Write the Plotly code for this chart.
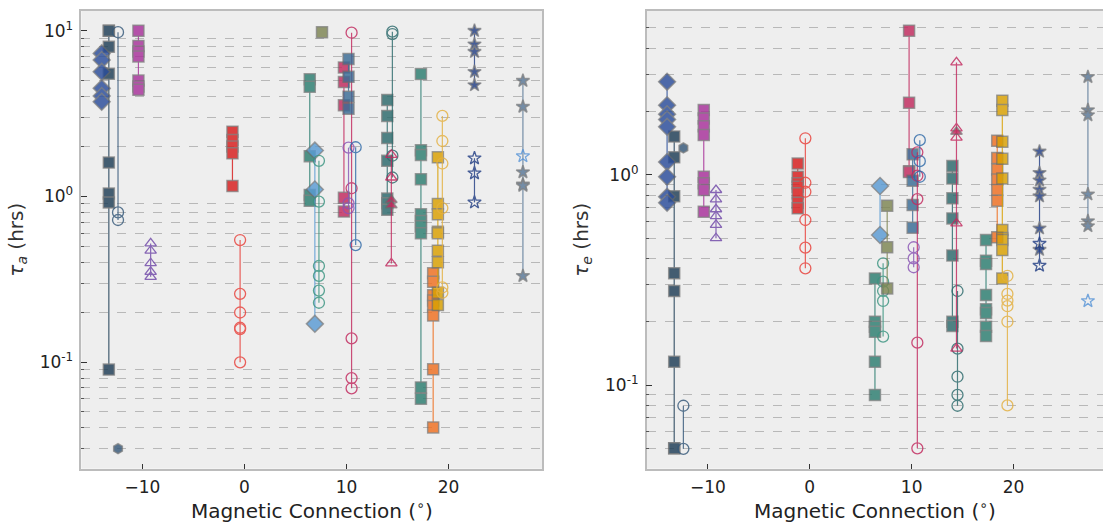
import plotly.graph_objects as go

# ---- tau_a (left panel): magnetic connection (deg) and time constants (hrs) ----
ta_navy_sq_x = -13.3
ta_navy_sq_y = [10.0, 10.0, 8.0, 5.5, 1.6, 1.04, 0.92, 0.09]
ta_slate_circ_x = -12.4
ta_slate_circ_y = [9.8, 0.80, 0.72]
ta_hex_x = -12.4
ta_hex_y = [0.030]
ta_diam_x = -14.0
ta_diam_y = [7.3, 6.66, 5.65, 4.49, 4.04, 3.73]
ta_mag_sq_x = -10.4
ta_mag_sq_y = [10.0, 8.1, 7.5, 7.0, 5.0, 4.6, 4.4]
ta_purp_tri_x = -9.2
ta_purp_tri_y = [0.52, 0.47, 0.395, 0.35, 0.327]
ta_red_sq_x = -1.18
ta_red_sq_y = [2.46, 2.19, 2.0, 1.82, 1.155]
ta_red_circ_x = -0.43
ta_red_circ_y = [0.545, 0.258, 0.199, 0.161, 0.158, 0.0996]
ta_teal_sq_x = 6.4
ta_teal_sq_y = [5.09, 4.59, 1.75, 1.02, 0.94]
ta_lb_diam_x = 6.9
ta_lb_diam_y = [1.89, 1.10, 0.17]
ta_teal_circ_x = 7.3
ta_teal_circ_y = [1.64, 0.93, 0.38, 0.331, 0.27, 0.228]
ta_olive_sq_x = 7.6
ta_olive_sq_y = [9.8]
ta_crim_sq_x = 9.75
ta_crim_sq_y = [6.0, 4.9, 3.55, 0.98, 0.81]
ta_steel_sq_x = 10.2
ta_steel_sq_y = [6.75, 5.27, 4.0, 3.38]
ta_crim_circ_x = 10.5
ta_crim_circ_y = [9.73, 1.12, 0.139, 0.08, 0.0694]
ta_purp_circ_x = 10.2
ta_purp_circ_y = [1.97, 0.908, 0.85]
ta_blue_circ_x = 10.9
ta_blue_circ_y = [1.98, 0.508]
ta_dteal_sq_x = 14.0
ta_dteal_sq_y = [3.82, 3.06, 2.25, 1.64, 0.97, 0.91, 0.83]
ta_dteal_circ_x = 14.5
ta_dteal_circ_y = [9.87, 9.55, 1.76, 1.30]
ta_crim_tri_x = 14.4
ta_crim_tri_y = [1.78, 1.30, 0.394]
ta_crim_tri_fill_y = [0.95, 0.885]
ta_teal2_sq_x = 17.3
ta_teal2_sq_y = [5.48, 1.90, 1.78, 1.27, 0.78, 0.71, 0.66, 0.60, 0.0703, 0.060]
ta_orange_sq_x = 18.5
ta_orange_sq_y = [0.343, 0.305, 0.253, 0.235, 0.218, 0.191, 0.0903, 0.0403]
ta_gold_sq_x = 18.96
ta_gold_sq_y = [1.72, 0.9, 0.78, 0.612, 0.6, 0.47, 0.40, 0.262, 0.221]
ta_gold_circ_x = 19.4
ta_gold_circ_y = [3.06, 2.16, 1.58, 0.85, 0.282, 0.262]
ta_navy_star_x = 22.55
ta_navy_star_y = [10.0, 8.28, 7.47, 5.65, 4.70]
ta_navy_ostar_y = [1.70, 1.38, 0.92]
ta_steel_star_x = 27.3
ta_steel_star_y = [4.99, 3.48, 1.40, 1.18, 1.16, 0.331]
ta_light_ostar_y = [1.75]

# ---- tau_e (right panel) ----
te_navy_sq_y = [1.52, 1.21, 0.79, 0.34, 0.28, 0.129, 0.05, 0.05]
te_slate_circ_y = [0.0797, 0.0497]
te_hex_y = [1.34]
te_diam_y = [2.77, 2.14, 1.94, 1.83, 1.69, 1.15, 0.978, 0.786, 0.736]
te_mag_sq_y = [2.03, 1.85, 1.70, 1.545, 0.978, 0.91, 0.846, 0.667]
te_purp_tri_y = [0.846, 0.764, 0.685, 0.636, 0.577, 0.499]
te_red_sq_y = [1.13, 0.978, 0.91, 0.877, 0.816, 0.736, 0.692]
te_red_circ_y = [1.49, 0.916, 0.83, 0.609, 0.45, 0.359]
te_teal_sq_y = [0.321, 0.2, 0.189, 0.179, 0.129, 0.0897]
te_lb_diam_y = [0.884, 0.517]
te_teal_circ_x = 7.2
te_teal_circ_y = [0.379, 0.31, 0.28, 0.251, 0.17]
te_olive_sq_y = [0.712, 0.452, 0.288]
te_crim_sq_y = [4.84, 2.2, 1.04, 1.03]
te_steel_sq_x = 10.1
te_steel_sq_y = [1.25, 0.937, 0.718, 0.56]
te_crim_circ_x = 10.56
te_crim_circ_y = [1.278, 0.989, 0.766, 0.159, 0.05]
te_purp_circ_y = [0.452, 0.40, 0.363]
te_blue_circ_x = 10.8
te_blue_circ_y = [1.46, 1.16, 0.978]
te_dteal_sq_y = [1.10, 0.96, 0.772, 0.62, 0.413, 0.2, 0.191]
te_dteal_circ_y = [0.28, 0.149, 0.1095, 0.0897, 0.0797]
te_crim_tri_y = [3.42, 1.66, 1.50, 0.587, 0.149]
te_crim_tri_fill_y = [1.60]
te_teal2_sq_y = [0.489, 0.39, 0.376, 0.268, 0.229, 0.22, 0.189, 0.171]
te_orange_sq_x = 18.4
te_orange_sq_y = [1.45, 1.2, 1.06, 0.95, 0.846, 0.752, 0.504]
te_gold_sq_x = 18.9
te_gold_sq_y = [2.25, 2.03, 1.435, 1.19, 0.96, 0.546, 0.5, 0.489, 0.438, 0.321]
te_gold_circ_y = [0.33, 0.271, 0.252, 0.237, 0.2, 0.08]
te_navy_star_y = [1.29, 1.02, 0.94, 0.85, 0.79, 0.556, 0.44]
te_navy_ostar_y = [0.47, 0.37]
te_steel_star_y = [2.92, 2.03, 1.92, 0.807, 0.602, 0.57]
te_light_ostar_y = [0.251]

# colours
NAVY = "#1e3d56"
SLATE = "#36597a"
ROYAL = "#2a4d9a"
MAGENTA = "#a8309a"
PURPLE = "#7048a8"
RED = "#d81c1c"
RED_LT = "#e8403a"
TEAL = "#2b7d70"
LBLUE = "#5a9bd4"
TEAL_LT = "#3a9480"
OLIVE = "#7d8552"
CRIMSON = "#c2295e"
STEEL = "#3a6c96"
PURPLE_LT = "#8a55b5"
BLUE = "#2f6aa8"
DTEAL = "#2c6a6c"
GOLD = "#d9a000"
GOLD_LT = "#e4b040"
ORANGE = "#f07020"
NAVY_STAR = "#233f85"
STEEL_STAR = "#5a7898"
LIGHT_STAR = "#5a96d8"

fig = go.Figure()

SIZES = {"square": 11, "circle-open": 11, "diamond": 13, "triangle-up-open": 10,
         "triangle-up": 10, "star": 10, "star-open": 10, "hexagon": 10}


def add(panel, x, y, symbol, color, line=True):
    xa, ya = ("x", "y") if panel == 1 else ("x2", "y2")
    filled = not symbol.endswith("-open")
    marker = dict(symbol=symbol, size=SIZES[symbol], color=color)
    if filled:
        marker["line"] = dict(color="rgba(105,105,105,0.75)", width=1.5)
    else:
        marker["line"] = dict(color=color, width=1.3)
    fig.add_trace(go.Scatter(
        x=[x] * len(y), y=y, xaxis=xa, yaxis=ya,
        mode="lines+markers" if line else "markers",
        line=dict(color=color, width=1.2),
        marker=marker, opacity=0.82, showlegend=False, hoverinfo="x+y"))


# left panel
add(1, ta_navy_sq_x, ta_navy_sq_y, "square", NAVY)
add(1, ta_slate_circ_x, ta_slate_circ_y, "circle-open", SLATE)
add(1, ta_hex_x, ta_hex_y, "hexagon", SLATE)
add(1, ta_diam_x, ta_diam_y, "diamond", ROYAL)
add(1, ta_mag_sq_x, ta_mag_sq_y, "square", MAGENTA)
add(1, ta_purp_tri_x, ta_purp_tri_y, "triangle-up-open", PURPLE)
add(1, ta_red_sq_x, ta_red_sq_y, "square", RED)
add(1, ta_red_circ_x, ta_red_circ_y, "circle-open", RED_LT)
add(1, ta_teal_sq_x, ta_teal_sq_y, "square", TEAL)
add(1, ta_lb_diam_x, ta_lb_diam_y, "diamond", LBLUE)
add(1, ta_teal_circ_x, ta_teal_circ_y, "circle-open", TEAL_LT)
add(1, ta_olive_sq_x, ta_olive_sq_y, "square", OLIVE)
add(1, ta_crim_circ_x, ta_crim_circ_y, "circle-open", CRIMSON)
add(1, ta_crim_sq_x, ta_crim_sq_y, "square", CRIMSON)
add(1, ta_steel_sq_x, ta_steel_sq_y, "square", STEEL)
add(1, ta_purp_circ_x, ta_purp_circ_y, "circle-open", PURPLE_LT)
add(1, ta_blue_circ_x, ta_blue_circ_y, "circle-open", BLUE)
add(1, ta_dteal_sq_x, ta_dteal_sq_y, "square", DTEAL)
add(1, ta_dteal_circ_x, ta_dteal_circ_y, "circle-open", DTEAL)
add(1, ta_crim_tri_x, ta_crim_tri_y, "triangle-up-open", CRIMSON)
add(1, ta_crim_tri_x, ta_crim_tri_fill_y, "triangle-up", CRIMSON)
add(1, ta_teal2_sq_x, ta_teal2_sq_y, "square", TEAL)
add(1, ta_orange_sq_x, ta_orange_sq_y, "square", ORANGE)
add(1, ta_gold_sq_x, ta_gold_sq_y, "square", GOLD)
add(1, ta_gold_circ_x, ta_gold_circ_y, "circle-open", GOLD_LT)
add(1, ta_navy_star_x, ta_navy_star_y, "star", NAVY_STAR)
add(1, ta_navy_star_x, ta_navy_ostar_y, "star-open", NAVY_STAR)
add(1, ta_steel_star_x, ta_steel_star_y, "star", STEEL_STAR)
add(1, ta_steel_star_x, ta_light_ostar_y, "star-open", LIGHT_STAR, line=False)

# right panel
add(2, ta_navy_sq_x, te_navy_sq_y, "square", NAVY)
add(2, ta_slate_circ_x, te_slate_circ_y, "circle-open", SLATE)
add(2, ta_hex_x, te_hex_y, "hexagon", SLATE)
add(2, ta_diam_x, te_diam_y, "diamond", ROYAL)
add(2, ta_mag_sq_x, te_mag_sq_y, "square", MAGENTA)
add(2, ta_purp_tri_x, te_purp_tri_y, "triangle-up-open", PURPLE)
add(2, ta_red_sq_x, te_red_sq_y, "square", RED)
add(2, ta_red_circ_x, te_red_circ_y, "circle-open", RED_LT)
add(2, ta_teal_sq_x, te_teal_sq_y, "square", TEAL)
add(2, ta_lb_diam_x, te_lb_diam_y, "diamond", LBLUE)
add(2, te_teal_circ_x, te_teal_circ_y, "circle-open", TEAL_LT)
add(2, ta_olive_sq_x, te_olive_sq_y, "square", OLIVE)
add(2, ta_crim_sq_x, te_crim_sq_y, "square", CRIMSON)
add(2, te_steel_sq_x, te_steel_sq_y, "square", STEEL)
add(2, te_crim_circ_x, te_crim_circ_y, "circle-open", CRIMSON)
add(2, ta_purp_circ_x, te_purp_circ_y, "circle-open", PURPLE_LT)
add(2, te_blue_circ_x, te_blue_circ_y, "circle-open", BLUE)
add(2, ta_dteal_sq_x, te_dteal_sq_y, "square", DTEAL)
add(2, ta_dteal_circ_x, te_dteal_circ_y, "circle-open", DTEAL)
add(2, ta_crim_tri_x, te_crim_tri_y, "triangle-up-open", CRIMSON)
add(2, ta_crim_tri_x, te_crim_tri_fill_y, "triangle-up", CRIMSON)
add(2, ta_teal2_sq_x, te_teal2_sq_y, "square", TEAL)
add(2, te_orange_sq_x, te_orange_sq_y, "square", ORANGE)
add(2, te_gold_sq_x, te_gold_sq_y, "square", GOLD)
add(2, ta_gold_circ_x, te_gold_circ_y, "circle-open", GOLD_LT)
add(2, ta_navy_star_x, te_navy_star_y, "star", NAVY_STAR)
add(2, ta_navy_star_x, te_navy_ostar_y, "star-open", NAVY_STAR)
add(2, ta_steel_star_x, te_steel_star_y, "star", STEEL_STAR)
add(2, ta_steel_star_x, te_light_ostar_y, "star-open", LIGHT_STAR, line=False)

W, H = 1103, 523
FRAME = "#bcbcbc"
GRID = "#b8b8b8"
FONT = "DejaVu Sans"

x_ticks = [-10, 0, 10, 20]


def minor_vals(lo, hi):
    vals = []
    for e in range(lo, hi + 1):
        for d in range(2, 10):
            vals.append(d * 10 ** e)
    return vals


def xaxis_style(domain, rng):
    return dict(domain=domain, range=rng, showline=True, linecolor=FRAME, linewidth=1.5,
                mirror=True, showgrid=False, zeroline=False,
                tickmode="array", tickvals=x_ticks, ticktext=["−10", "0", "10", "20"],
                ticks="inside", ticklen=5, tickwidth=1, tickcolor="#333333",
                ticklabelstandoff=2,
                tickfont=dict(family=FONT, size=17, color="#222222"),
                title=dict(text="Magnetic Connection (<sup>∘</sup>)",
                           font=dict(family=FONT, size=20, color="#222222"), standoff=4))


def yaxis_style(anchor, domain, rng, majors, labels, title, mirror):
    return dict(anchor=anchor, domain=domain, type="log", range=rng,
                showline=True, linecolor=FRAME, linewidth=1.5, mirror=mirror,
                showgrid=False, zeroline=False,
                tickmode="array", tickvals=majors, ticktext=labels,
                ticks="inside", ticklen=6, tickwidth=1, tickcolor="#333333",
                ticklabelstandoff=3,
                tickfont=dict(family=FONT, size=17, color="#222222"),
                minor=dict(tickmode="array", tickvals=minor_vals(-2, 1),
                           ticks="inside", ticklen=3, tickwidth=1, tickcolor="#555555",
                           showgrid=True, gridcolor=GRID, griddash="dash", gridwidth=0.9),
                title=dict(text=title, font=dict(family=FONT, size=20, color="#333333"),
                           standoff=11))


y_dom = [1 - 468.7 / H, 1 - 10.7 / H]

fig.update_layout(
    width=W, height=H,
    margin=dict(l=0, r=0, t=0, b=0),
    paper_bgcolor="white",
    plot_bgcolor="#eeeeee",
    showlegend=False,
    xaxis=xaxis_style([81.3 / W, 542.3 / W], [-16.0, 29.2]),
    yaxis=yaxis_style("x", y_dom, [-1.644, 1.121], [0.1, 1, 10],
                      ["10<sup>-1</sup>", "10<sup>0</sup>", "10<sup>1</sup>"],
                      "<i>τ<sub>a</sub></i> (hrs)", True),
    xaxis2=dict(xaxis_style([646.7 / W, 1.0], [-16.0, 28.78]), anchor="y2"),
    yaxis2=yaxis_style("x2", y_dom, [-1.398, 0.78], [0.1, 1],
                       ["10<sup>-1</sup>", "10<sup>0</sup>"],
                       "<i>τ<sub>e</sub></i> (hrs)", False),
)
fig.layout.xaxis.anchor = "y"

fig.write_html("out.html")
